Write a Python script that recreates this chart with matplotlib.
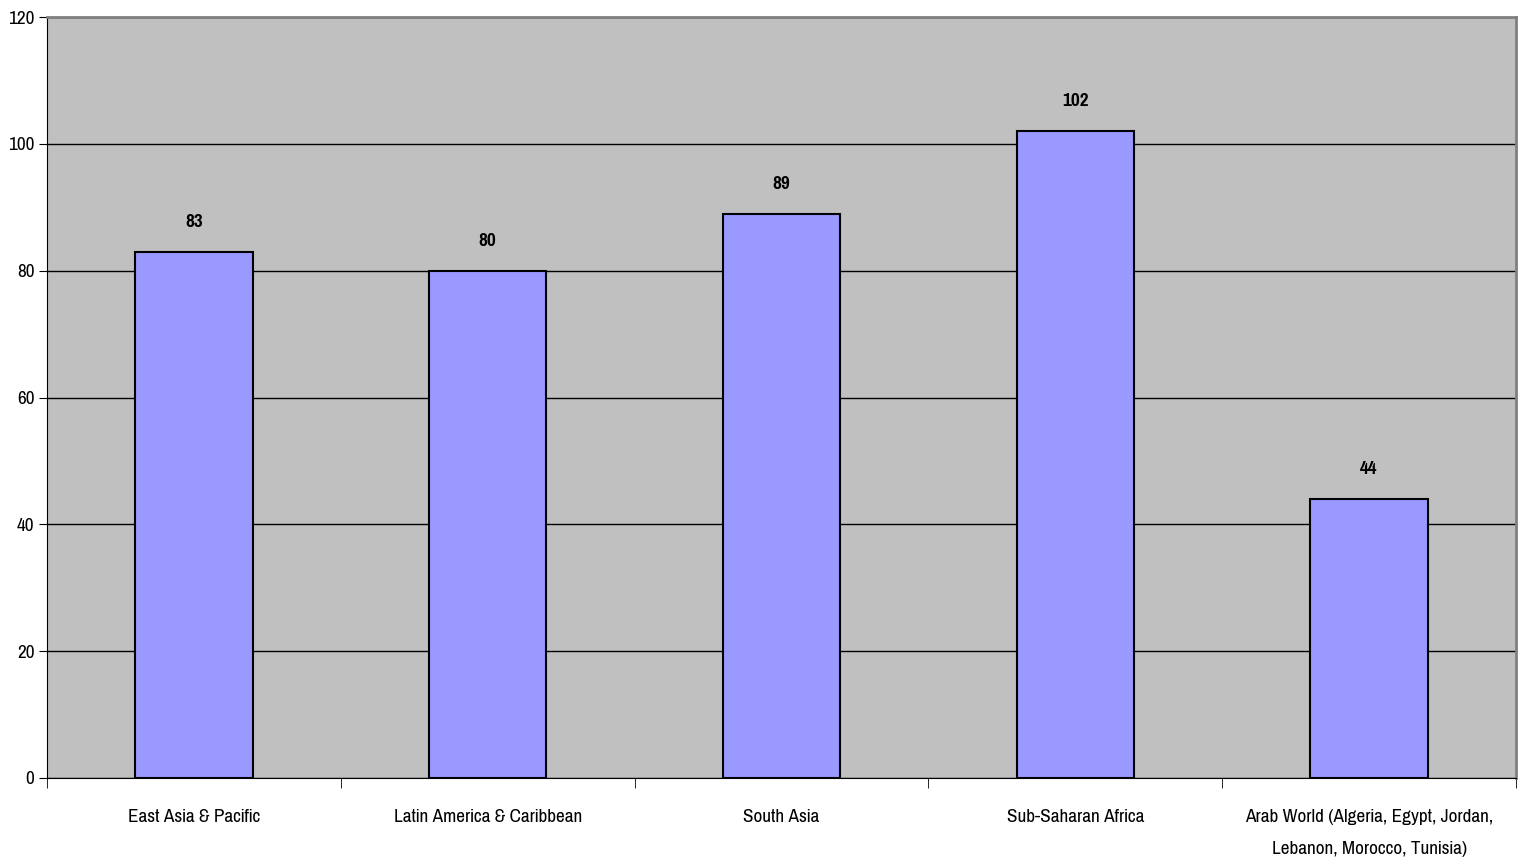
import matplotlib.pyplot as plt
import numpy as np

regions = [
    "East Asia & Pacific",
    "Latin America & Caribbean",
    "South Asia",
    "Sub-Saharan Africa",
    "Arab World (Algeria, Egypt, Jordan,\nLebanon, Morocco, Tunisia)",
]
values = [83, 80, 89, 102, 44]

plt.rcParams["font.family"] = ["Pragati Narrow", "Liberation Sans", "DejaVu Sans"]

fig = plt.figure(figsize=(15.18, 8.6), dpi=100)
ax = fig.add_axes([47 / 1518, 1 - 778 / 860, 1469 / 1518, 761 / 860])
ax.set_facecolor("#C0C0C0")

x = np.arange(len(values))
ax.bar(x, values, width=0.4, color="#9999FF", edgecolor="black", linewidth=1.5, zorder=3)

for xi, v in zip(x, values):
    ax.text(xi, v + 4.7, str(v), ha="center", va="center", fontsize=15, fontweight="bold")

ax.set_xlim(-0.5, len(values) - 0.5)
ax.set_ylim(0, 120)
ax.set_yticks(range(0, 121, 20))
ax.yaxis.grid(True, color="black", linewidth=1)
ax.set_axisbelow(True)

ax.set_xticks(x)
ax.set_xticklabels(regions, fontsize=15, linespacing=2.3, va="top")
ax.tick_params(axis="x", length=0, pad=22)
ax.set_xticks(np.arange(-0.5, len(values), 1), minor=True)
ax.tick_params(axis="x", which="minor", length=7, color="black")
ax.tick_params(axis="y", labelsize=15, length=6, direction="out", pad=3)

for side in ["top", "right"]:
    ax.spines[side].set_color("#808080")
    ax.spines[side].set_linewidth(2)
for side in ["left", "bottom"]:
    ax.spines[side].set_color("black")

plt.savefig("out.png", dpi=100)
